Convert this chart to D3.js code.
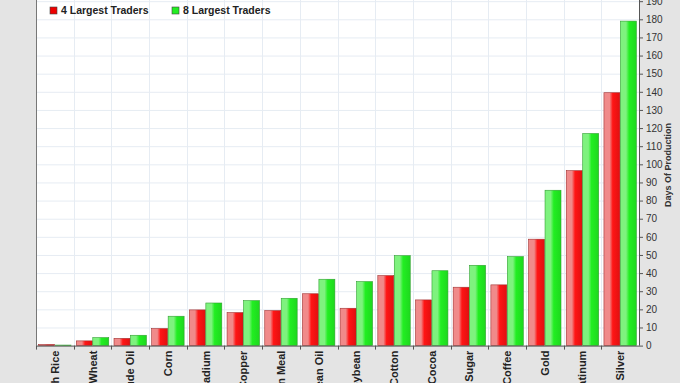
<!DOCTYPE html>
<html>
<head>
<meta charset="utf-8">
<script src="https://cdn.jsdelivr.net/npm/d3@7"></script>
<style>
  body { margin: 0; background: #e3e3e3; }
  svg { display: block; font-family: "Liberation Sans", Arial, sans-serif; }
</style>
</head>
<body>
<svg id="chart" width="680" height="383"></svg>
<script>
// commodity names, left to right
let categories = ["Rough Rice", "Wheat", "Crude Oil", "Corn", "Palladium", "Copper",
    "Soybean Meal", "Soybean Oil", "Soybean", "Cotton", "Cocoa", "Sugar", "Coffee",
    "Gold", "Platinum", "Silver"];
let seriesNames = ["4 Largest Traders", "8 Largest Traders"];
let largest4 = [0.6, 2.6, 4.0, 9.4, 19.7, 18.2, 19.3, 28.6, 20.6, 38.6, 25.2, 32.2, 33.5, 58.7, 96.5, 139.5];
let largest8 = [0.3, 4.4, 5.7, 16.2, 23.5, 24.8, 26.1, 36.6, 35.3, 49.6, 41.3, 44.3, 49.1, 85.7, 117, 179];
let yTicks = d3.range(0, 200, 10);

let svg = d3.select("#chart");
let left = 36, right = 639, bottom = 345.6;

// backgrounds
svg.append("rect").attr("x", 0).attr("y", 0).attr("width", 680).attr("height", 383).attr("fill", "#e4e4e4");
svg.append("rect").attr("x", left).attr("y", 0).attr("width", right - left).attr("height", bottom)
    .attr("fill", "#ffffff");

let defs = svg.append("defs");
function barGrad(id, light, mid, dark) {
    let g = defs.append("linearGradient").attr("id", id).attr("x1", "0").attr("x2", "1").attr("y1", "0").attr("y2", "0");
    g.append("stop").attr("offset", "0%").attr("stop-color", light);
    g.append("stop").attr("offset", "35%").attr("stop-color", light);
    g.append("stop").attr("offset", "55%").attr("stop-color", mid);
    g.append("stop").attr("offset", "100%").attr("stop-color", dark);
}
barGrad("gRed", "#f08a8a", "#ff1515", "#e01010");
barGrad("gGreen", "#7ef27e", "#22ee22", "#1ed81e");

let x = d3.scaleBand().domain(categories).range([left, right]);
let inner = d3.scaleBand().domain([0, 1]).range([0, x.bandwidth()]).paddingOuter(0.16).paddingInner(0.03);
let y = d3.scaleLinear().domain([0, 180]).range([bottom, 19.3]);

// grid
let grid = svg.append("g");
grid.selectAll("line.h").data(yTicks.slice(1)).enter().append("line")
    .attr("x1", left).attr("x2", right)
    .attr("y1", d => y(d) + 0.5).attr("y2", d => y(d) + 0.5)
    .attr("stroke", "#e6ecf3");
grid.selectAll("line.v").data(categories.slice(1)).enter().append("line")
    .attr("x1", d => Math.round(x(d)) + 0.5).attr("x2", d => Math.round(x(d)) + 0.5)
    .attr("y1", 0).attr("y2", bottom)
    .attr("stroke", "#e6ecf3");

// bars
let series = [largest4, largest8];
let fills = ["url(#gRed)", "url(#gGreen)"];
let strokes = ["#a03030", "#30a030"];
series.forEach((vals, s) => {
    svg.append("g").selectAll("rect").data(vals).enter().append("rect")
        .attr("x", (d, i) => x(categories[i]) + inner(s))
        .attr("width", inner.bandwidth())
        .attr("y", d => y(d))
        .attr("height", d => bottom - y(d))
        .attr("fill", fills[s])
        .attr("stroke", strokes[s])
        .attr("stroke-width", 0.6);
});

// plot border
svg.append("line").attr("x1", left + 0.5).attr("x2", left + 0.5).attr("y1", 0).attr("y2", bottom)
    .attr("stroke", "#777");

// x axis
let xAxis = svg.append("g").attr("transform", "translate(0," + bottom + ")");
xAxis.append("line").attr("x1", left).attr("x2", right).attr("y1", 0.5).attr("y2", 0.5).attr("stroke", "#555");
xAxis.selectAll("line.tick").data(categories).enter().append("line")
    .attr("x1", d => Math.round(x(d)) + 0.5).attr("x2", d => Math.round(x(d)) + 0.5)
    .attr("y1", 0).attr("y2", 4).attr("stroke", "#555");
xAxis.selectAll("text").data(categories).enter().append("text")
    .attr("transform", d => "translate(" + (x(d) + x.bandwidth() / 2) + ",5) rotate(-90)")
    .attr("text-anchor", "end")
    .attr("dy", "0.36em")
    .attr("font-size", 11)
    .attr("font-weight", "bold")
    .attr("fill", "#222")
    .text(d => d);

// y axis on the right
let yAxis = svg.append("g").attr("transform", "translate(" + right + ",0)")
    .call(d3.axisRight(y).tickValues(yTicks).tickSize(4).tickSizeOuter(0).tickPadding(3));
yAxis.select(".domain").attr("stroke", "#555").attr("d", "M0.5,0V" + bottom);
yAxis.selectAll(".tick line").attr("stroke", "#555");
yAxis.selectAll("text").attr("font-size", 10).attr("fill", "#333")
    .attr("font-family", "\"Liberation Sans\", Arial, sans-serif");

svg.append("text")
    .attr("transform", "translate(671,165) rotate(-90)")
    .attr("text-anchor", "middle")
    .attr("font-size", 9)
    .attr("font-weight", "bold")
    .attr("fill", "#333")
    .text("Days Of Production");

// legend
let legendX = [50, 172];
let legend = svg.append("g");
seriesNames.forEach((name, s) => {
    legend.append("rect").attr("x", legendX[s]).attr("y", 7).attr("width", 7).attr("height", 7)
        .attr("fill", s === 0 ? "#ee0000" : "#22ee22").attr("stroke", "#444").attr("stroke-width", 0.6);
    legend.append("text").attr("x", legendX[s] + 11).attr("y", 14)
        .attr("font-size", 10.5).attr("font-weight", "bold").attr("fill", "#222")
        .text(name);
});
</script>
</body>
</html>
